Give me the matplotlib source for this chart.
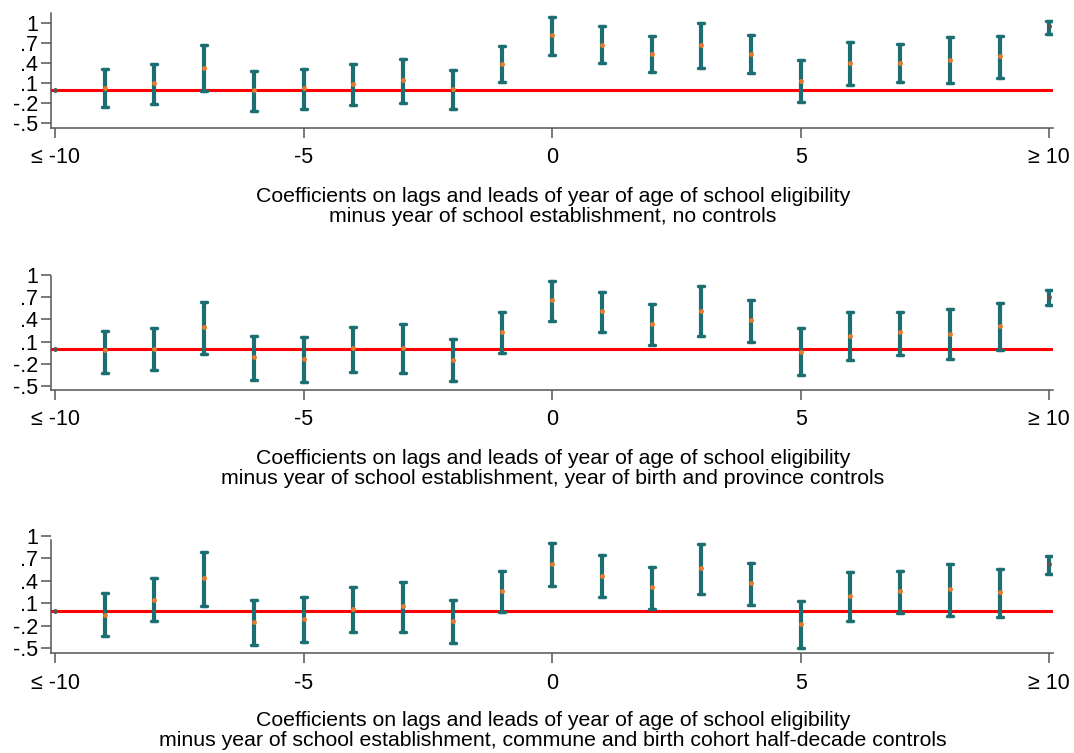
import matplotlib
matplotlib.use("Agg")
import matplotlib.pyplot as plt
import numpy as np

plt.rcParams['font.family'] = ['Liberation Sans', 'DejaVu Sans']

# Event-time bins: -10 (<= -10, omitted reference) ... 10 (>= 10)
event_time = list(range(-10, 11))
xtick_values = [-10, -5, 0, 5, 10]
xtick_labels = ["≤ -10", "-5", "0", "5", "≥ 10"]
ytick_values = [-0.5, -0.2, 0.1, 0.4, 0.7, 1.0]
ytick_labels = ["-.5", "-.2", ".1", ".4", ".7", "1"]

# Panel A: no controls
coef_a = [0.0, 0.03, 0.095, 0.32, 0.0, 0.025, 0.08, 0.145, 0.01, 0.39, 0.82,
          0.675, 0.535, 0.675, 0.535, 0.13, 0.405, 0.405, 0.45, 0.50, 0.955]
hi_a = [0.0, 0.31, 0.38, 0.675, 0.285, 0.315, 0.385, 0.46, 0.30, 0.655, 1.095,
        0.95, 0.805, 0.995, 0.82, 0.44, 0.715, 0.69, 0.785, 0.805, 1.035]
lo_a = [0.0, -0.255, -0.21, -0.015, -0.315, -0.285, -0.225, -0.205, -0.285, 0.115, 0.52,
        0.395, 0.265, 0.33, 0.245, -0.185, 0.07, 0.115, 0.105, 0.18, 0.835]

# Panel B: year of birth and province controls
coef_b = [0.0, -0.018, 0.0, 0.296, -0.108, -0.135, 0.009, 0.018, -0.152, 0.224, 0.655,
          0.511, 0.341, 0.511, 0.395, -0.036, 0.179, 0.224, 0.206, 0.309, 0.700]
hi_b = [0.0, 0.247, 0.278, 0.632, 0.175, 0.161, 0.296, 0.341, 0.130, 0.493, 0.924,
        0.767, 0.610, 0.848, 0.668, 0.278, 0.493, 0.493, 0.538, 0.623, 0.798]
lo_b = [0.0, -0.323, -0.291, -0.063, -0.422, -0.453, -0.309, -0.323, -0.439, -0.049, 0.372,
        0.229, 0.054, 0.170, 0.099, -0.354, -0.148, -0.081, -0.143, -0.009, 0.596]

# Panel C: commune and birth cohort half-decade controls
coef_c = [0.0, -0.048, 0.150, 0.436, -0.145, -0.106, 0.026, 0.066, -0.132, 0.264, 0.621,
          0.463, 0.322, 0.564, 0.366, -0.172, 0.194, 0.264, 0.291, 0.251, 0.621]
hi_c = [0.0, 0.238, 0.432, 0.784, 0.150, 0.189, 0.322, 0.388, 0.150, 0.533, 0.899,
        0.744, 0.590, 0.885, 0.643, 0.132, 0.515, 0.533, 0.630, 0.559, 0.736]
lo_c = [0.0, -0.330, -0.141, 0.070, -0.458, -0.410, -0.286, -0.286, -0.427, -0.018, 0.330,
        0.181, 0.022, 0.225, 0.084, -0.498, -0.128, -0.031, -0.062, -0.075, 0.493]

title_line1 = "Coefficients on lags and leads of year of age of school eligibility"
title_line2 = [
    "minus year of school establishment, no controls",
    "minus year of school establishment, year of birth and province controls",
    "minus year of school establishment, commune and birth cohort half-decade controls",
]

W, H = 1074, 753
fig = plt.figure(figsize=(W / 100, H / 100), dpi=100)

# (top_px, bottom_px, ylim_low, ylim_high, spine_top_value, title_y_px)
panel_geom = [
    (13, 127.7, -0.57, 1.15, 1.15, 196),
    (275, 390, -0.556, 0.99, 0.99, 458),
    (535.7, 653.3, -0.564, 1.0, 0.947, 720),
]
left_px, right_px = 50.7, 1053

TEAL = "#1c6e72"
ORANGE = "#e8792b"
GREY = "#555555"

series = [(coef_a, lo_a, hi_a), (coef_b, lo_b, hi_b), (coef_c, lo_c, hi_c)]

for (coef, lo, hi), (top, bot, ylo, yhi, stop, ty), sub in zip(series, panel_geom, title_line2):
    ax = fig.add_axes([left_px / W, 1 - bot / H, (right_px - left_px) / W, (bot - top) / H])
    x = np.array(event_time)
    c = np.array(coef)
    l = np.array(lo)
    h = np.array(hi)

    ax.axhline(0, color="#ff0000", lw=2.2, zorder=1)

    ci_mask = x > -10
    ax.vlines(x[ci_mask], l[ci_mask], h[ci_mask], color=TEAL, lw=3, zorder=2)
    for xi, li, hi_ in zip(x[ci_mask], l[ci_mask], h[ci_mask]):
        ax.plot([xi - 0.06, xi + 0.06], [li, li], color=TEAL, lw=2.5,
                solid_capstyle="round", zorder=2)
        ax.plot([xi - 0.06, xi + 0.06], [hi_, hi_], color=TEAL, lw=2.5,
                solid_capstyle="round", zorder=2)

    pt_mask = (x > -10) & (x < 10)
    ax.plot(x[pt_mask], c[pt_mask], "o", color=ORANGE, ms=3.5, mec="none", zorder=3)
    end_mask = (x == -10) | (x == 10)
    ax.plot(x[end_mask], c[end_mask], "o", color=GREY, ms=3.5, mec="none", zorder=3)

    ax.set_xlim(-10.087, 10.074)
    ax.set_ylim(ylo, yhi)
    ax.spines["top"].set_visible(False)
    ax.spines["right"].set_visible(False)
    ax.spines["left"].set_bounds(ylo, stop)
    for s in ("left", "bottom"):
        ax.spines[s].set_color("#555555")
        ax.spines[s].set_linewidth(1.1)
    ax.set_yticks(ytick_values)
    ax.set_yticklabels(ytick_labels)
    ax.set_xticks(xtick_values)
    ax.set_xticklabels(xtick_labels)
    ax.tick_params(axis="both", colors="#555555", labelcolor="black",
                   labelsize=15.5, length=7, width=1.1)
    ax.tick_params(axis="x", pad=7)
    ax.tick_params(axis="y", pad=2)
    ax.set_facecolor("white")

    fig.text(553 / W, 1 - ty / H, title_line1, ha="center", va="center", fontsize=15.3)
    fig.text(553 / W, 1 - (ty + 21) / H, sub, ha="center", va="center", fontsize=15.3)

fig.savefig("out.png", dpi=100, facecolor="white")
